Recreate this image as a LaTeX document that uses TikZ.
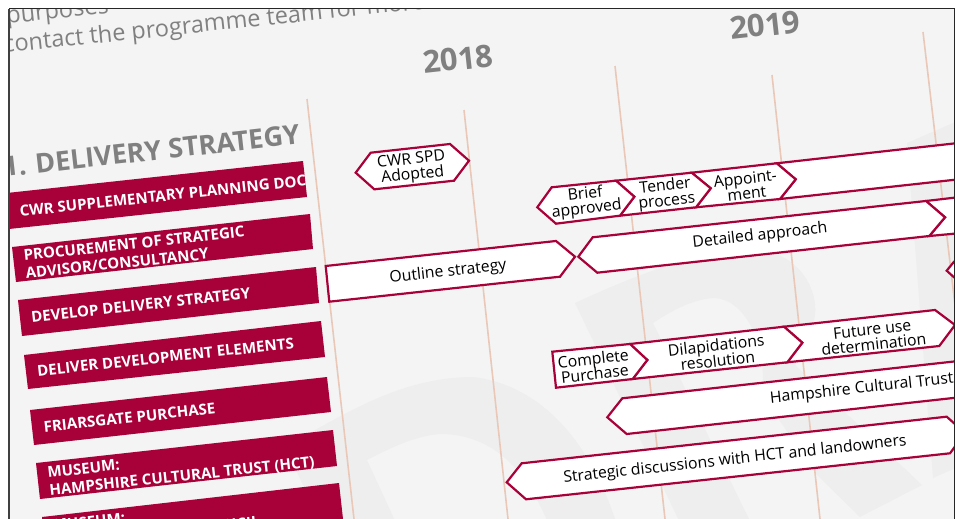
\documentclass[tikz,border=0pt]{standalone}
\usepackage{fontspec}
\setmainfont{Open Sans}
\definecolor{crim}{HTML}{A80038}
\definecolor{panel}{HTML}{F4F4F4}
\definecolor{wm}{HTML}{EEEEEE}
\definecolor{peach}{HTML}{EAC8B8}
\definecolor{titlegrey}{HTML}{808080}
\lineskiplimit=-20pt
\tikzset{
 px/.style={x=1pt,y=-1pt},
 gridline/.style={draw=peach,line width=1.6pt},
 redbox/.style={fill=crim},
 chev/.style={draw=crim,fill=white,line width=2.2pt,line join=miter},
 boxtext/.style={text=white,font=\fontsize{15.1}{18}\selectfont\bfseries,rotate=6.2,anchor=west,align=left,inner sep=0pt},
 chevtext/.style={text=black,font=\fontsize{15.8}{15.3}\selectfont,rotate=6.2,align=center,inner sep=0pt},
 yeartext/.style={text=titlegrey,font=\fontsize{31}{33}\selectfont\bfseries,rotate=6.3,inner sep=0pt},
 headtext/.style={text=titlegrey,font=\fontsize{23.5}{26}\selectfont,rotate=6,anchor=base west,inner sep=0pt},
}
\begin{document}
\begin{tikzpicture}[px]
\useasboundingbox (0,0) rectangle (962,519);
\fill[white] (0,0) rectangle (962,519);
\begin{scope}
\clip (9,9) rectangle (954.5,525);
\fill[panel] (9,9) rectangle (955,525);
% watermark letters
\fill[wm] (285,447) .. controls (343,415) and (400,377) .. (473,377)
  .. controls (540,385) and (590,440) .. (617,525) -- (549,525)
  .. controls (530,480) and (500,434) .. (440,434)
  .. controls (415,436) and (390,448) .. (367,460) -- (397,525) -- (322,525) -- cycle;
\fill[wm] (575,303) .. controls (640,273) and (700,250) .. (760,250)
  .. controls (800,255) and (818,290) .. (815,315)
  .. controls (812,335) and (805,350) .. (795,365) -- (922,485) -- (860,517) -- (817,475) -- (762,395)
  .. controls (768,345) and (745,298) .. (713,298)
  .. controls (690,300) and (670,312) .. (653,323) -- (752,525) -- (681,525) -- cycle;
\fill[wm] (907,143) -- (960,120) -- (960,466) -- (933,478) -- cycle;
% gridlines
\draw[gridline] (307,99) -- (354,519);
\draw[gridline] (464,110) -- (508,519);
\draw[gridline] (615,66) -- (665,519);
\draw[gridline] (772,75) -- (820,519);
\draw[gridline] (923,32) -- (980,519);
% header text
\node[headtext] (head1) at (4,53) {contact the programme team for more};
\node[headtext] (head0) at (7,24) {purposes};
\node[text=titlegrey,font=\fontsize{27}{30}\selectfont\bfseries,rotate=6.4,anchor=base west,inner sep=0pt] (title) at (4,177) {1. DELIVERY STRATEGY};
\node[yeartext] (y18) at (458,59) {2018};
\node[yeartext] (y19) at (765,25) {2019};
% red boxes
\fill[redbox] (5,193.2) -- (303,161) -- (307,197) -- (9,229) -- cycle;
\fill[redbox] (12,247) -- (310,214) -- (313,249) -- (16,282) -- cycle;
\fill[redbox] (18,300) -- (316,267) -- (319,303) -- (22,336) -- cycle;
\fill[redbox] (24,355) -- (321,321) -- (325,357) -- (28,389) -- cycle;
\fill[redbox] (30,410) -- (327,377) -- (331,412) -- (34,445) -- cycle;
\fill[redbox] (36,463) -- (333,430) -- (337,466) -- (40,499) -- cycle;
\fill[redbox] (42,517) -- (339,483) -- (343,519) -- (46,553) -- cycle;
\node[boxtext] (b1) at (19.5,211.5) {CWR SUPPLEMENTARY PLANNING DOC};
\node[boxtext] (b2) at (24.5,264.5) {PROCUREMENT OF STRATEGIC\\ADVISOR/CONSULTANCY};
\node[boxtext] (b3) at (31,317) {DEVELOP DELIVERY STRATEGY};
\node[boxtext] (b4) at (37,371) {DELIVER DEVELOPMENT ELEMENTS};
\node[boxtext] (b5) at (43.5,427) {FRIARSGATE PURCHASE};
\node[boxtext] (b6) at (48.5,482.5) {MUSEUM:\\HAMPSHIRE CULTURAL TRUST (HCT)};
\node[boxtext] (b7) at (54,534.5) {MUSEUM:\\WINCHESTER CITY COUNCIL};
% chevrons
\draw[chev] (355.7,172.7) -- (370.7,152.7) -- (450,144) -- (469,160.7) -- (454,180.7) -- (374.3,189.3) -- cycle;
\node[chevtext] (spd) at (412,168) {CWR SPD\\Adopted};
\draw[chev] (776.7,163.3) -- (985,140) -- (989,176) -- (780,199) -- (795.7,179.3) -- cycle;
\draw[chev] (691.7,172.7) -- (776.7,163.3) -- (795.7,179.3) -- (780,199) -- (696,207.3) -- (710.7,188.3) -- cycle;
\draw[chev] (616,180.7) -- (691.7,172.7) -- (710.7,188.3) -- (696,207.3) -- (620,215.7) -- (634.3,196.7) -- cycle;
\draw[chev] (537.3,207.3) -- (551.7,187.3) -- (616,180.7) -- (634.3,196.7) -- (620,215.7) -- (556,223.7) -- cycle;
\node[chevtext] (brief) at (586,202) {Brief\\approved};
\node[chevtext] (tender) at (666,194) {Tender\\process};
\node[chevtext] (appt) at (746,186) {Appoint-\\ment};
\draw[chev] (325.7,266) -- (556,241) -- (575,256.7) -- (560,276.7) -- (329.3,301.7) -- cycle;
\node[chevtext] (outline) at (448,272) {Outline strategy};
\draw[chev] (926,201) -- (990,193.5) -- (994,230) -- (929.3,236) -- (945,217.3) -- cycle;
\draw[chev] (578.3,256.7) -- (592.7,237.3) -- (926,201) -- (945,217.3) -- (929.3,236) -- (597.3,272.7) -- cycle;
\node[chevtext] (detail) at (760,236) {Detailed approach};
\draw[chev] (946.7,270.7) -- (954,261.7) -- (1000,256) -- (1004,272) -- (954,277.3) -- cycle;
\draw[chev] (784,326.7) -- (935,310) -- (955,325) -- (939.3,346) -- (787.3,362.3) -- (802.3,342.7) -- cycle;
\draw[chev] (630,344) -- (784,326.7) -- (802.3,342.7) -- (787.3,362.3) -- (632.7,379) -- (647.3,360) -- cycle;
\draw[chev] (552.3,351.7) -- (630,344) -- (647.3,360) -- (632.7,379) -- (556,387.7) -- cycle;
\node[chevtext] (compl) at (594,366) {Complete\\Purchase};
\node[chevtext] (dilap) at (717,353) {Dilapidations\\resolution};
\node[chevtext] (future) at (873,337) {Future use\\determination};
\draw[chev] (607.3,417.3) -- (622.3,398.3) -- (990,357.5) -- (994,393.5) -- (626.7,434) -- cycle;
\node[chevtext,anchor=west] (hct) at (770,399) {Hampshire Cultural Trust};
\draw[chev] (506.7,482.3) -- (521.7,463.3) -- (946.7,416.7) -- (965,433) -- (950,453.3) -- (526,499.3) -- cycle;
\node[chevtext] (strat) at (735,460) {Strategic discussions with HCT and landowners};
\end{scope}
\draw[black!85,line width=1pt] (9,9) -- (954.5,9);
\draw[black!75,line width=1.2pt] (9,9) -- (9,519);
\draw[black!85,line width=1.2pt] (954.5,9) -- (954.5,519);
\end{tikzpicture}
\end{document}
